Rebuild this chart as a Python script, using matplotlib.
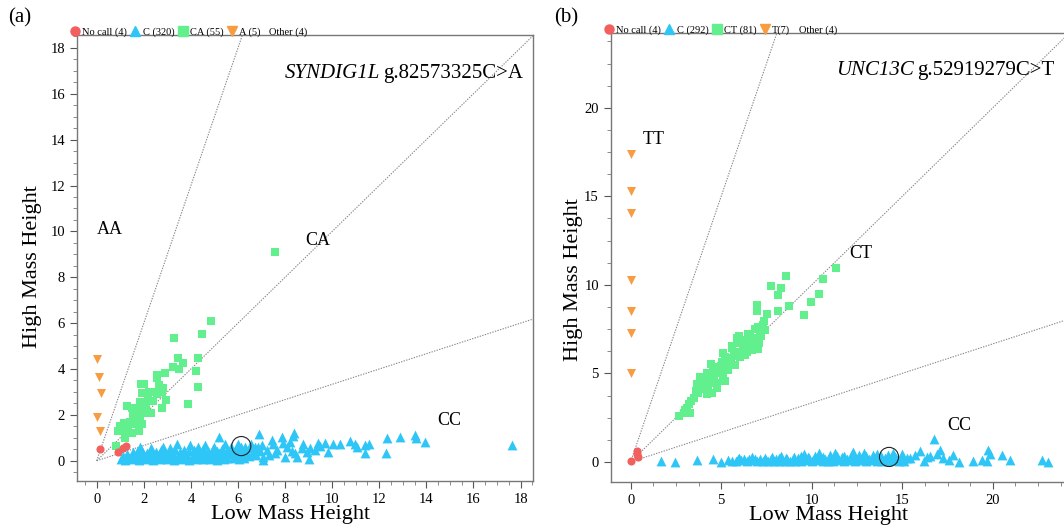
import matplotlib
matplotlib.use("Agg")
from matplotlib import pyplot as plt
from matplotlib.lines import Line2D
from matplotlib.ticker import MultipleLocator
import numpy as np

plt.rcParams['font.family'] = ['Liberation Serif', 'DejaVu Serif']

RED = '#f25f5f'
BLUE = '#2ec6f7'
GREEN = '#62f08e'
ORANGE = '#f89c42'

# ---------------- panel (a) data : SYNDIG1L ----------------
a_nocall = [(0.14, 0.50), (0.89, 0.37), (1.10, 0.54), (1.24, 0.63)]
a_hom_alt = [(0.0, 4.42), (0.11, 3.66), (0.17, 2.96), (0.0, 1.92), (0.14, 1.31)]
a_het = [(4.84, 6.09), (4.46, 5.51), (3.28, 5.33), (3.44, 4.46), (3.65, 4.27),
         (4.31, 4.49), (3.23, 4.07), (3.48, 4.00), (2.91, 3.84), (4.23, 3.91),
         (2.55, 3.72), (2.55, 3.60), (2.01, 3.34), (1.88, 3.33), (2.83, 3.18),
         (4.30, 3.20), (1.91, 2.96), (2.49, 3.01), (2.55, 2.89), (2.79, 3.01),
         (2.18, 2.75), (2.93, 2.66), (1.84, 2.57), (3.86, 2.46), (2.79, 2.31),
         (1.27, 2.38), (1.49, 2.28), (1.98, 2.28), (1.55, 2.17), (2.02, 2.07),
         (1.84, 1.95), (1.55, 1.82), (1.94, 1.61), (1.63, 1.59), (1.34, 1.51),
         (0.99, 1.51), (0.92, 1.29), (1.13, 1.29), (1.49, 1.22), (1.32, 1.20),
         (1.20, 1.00), (0.81, 0.66), (1.73, 1.62), (2.10, 2.40), (1.70, 2.30),
         (2.30, 2.10), (1.40, 1.70), (1.05, 1.40), (2.20, 3.00), (7.57, 9.11),
         (1.60, 1.95), (1.15, 1.65), (2.40, 2.60), (1.80, 1.30), (2.65, 3.30)]
a_hom_ref = [(1.05, 0.08), (1.10, 0.22), (1.20, 0.05), (1.28, 0.28), (1.35, 0.12),
             (1.44, 0.18), (1.50, 0.06), (1.52, 0.38), (1.60, 0.25), (1.65, 0.10),
             (1.72, 0.40), (1.75, 0.20), (1.80, 0.05), (1.85, 0.60), (1.90, 0.30),
             (1.92, 0.42), (1.95, 0.12), (2.05, 0.22), (2.10, 0.06), (2.12, 0.36),
             (2.20, 0.28), (2.25, 0.10), (2.30, 0.55), (2.32, 0.44), (2.35, 0.18),
             (2.40, 0.04), (2.50, 0.25), (2.52, 0.40), (2.55, 0.10), (2.65, 0.30),
             (2.70, 0.06), (2.72, 0.45), (2.80, 0.62), (2.85, 0.14), (2.92, 0.38),
             (2.95, 0.24), (3.00, 0.06), (3.10, 0.55), (3.12, 0.42), (3.15, 0.12),
             (3.25, 0.28), (3.30, 0.05), (3.32, 0.46), (3.40, 0.74), (3.45, 0.15),
             (3.52, 0.40), (3.55, 0.22), (3.60, 0.06), (3.70, 0.32), (3.72, 0.48),
             (3.75, 0.12), (3.85, 0.25), (3.90, 0.05), (3.92, 0.42), (3.95, 0.68),
             (4.05, 0.14), (4.12, 0.45), (4.15, 0.28), (4.20, 0.06), (4.30, 0.58),
             (4.32, 0.38), (4.35, 0.18), (4.45, 0.30), (4.50, 0.08), (4.52, 0.50),
             (4.60, 0.70), (4.65, 0.14), (4.72, 0.42), (4.75, 0.26), (4.80, 0.06),
             (4.90, 0.34), (4.92, 0.52), (4.95, 0.12), (5.00, 0.62), (5.05, 0.24),
             (5.10, 0.05), (5.12, 0.44), (5.20, 0.32), (5.21, 1.05), (5.25, 0.14),
             (5.32, 0.50), (5.35, 0.22), (5.40, 0.06), (5.45, 0.72), (5.50, 0.36),
             (5.52, 0.48), (5.55, 0.12), (5.65, 0.28), (5.70, 0.60), (5.72, 0.44),
             (5.80, 0.10), (5.85, 0.38), (5.90, 0.30), (5.92, 0.52), (5.95, 0.16),
             (6.00, 0.75), (6.05, 0.06), (6.10, 0.42), (6.12, 0.58), (6.15, 0.22),
             (6.25, 0.10), (6.28, 0.50), (6.30, 0.62), (6.35, 0.35), (6.45, 0.20),
             (6.50, 0.55), (6.55, 0.75), (6.60, 0.30), (6.72, 0.61), (6.75, 0.25),
             (6.80, 0.45), (6.85, 0.62), (6.89, 1.16), (6.93, 0.44), (7.00, 0.70),
             (7.07, 0.05), (7.07, 0.17), (7.22, 0.47), (7.30, 0.25), (7.46, 0.90),
             (7.50, 0.73), (7.57, 0.32), (7.64, 0.47), (7.86, 1.02), (7.92, 0.76),
             (8.00, 0.15), (8.07, 0.61), (8.20, 0.83), (8.28, 0.44), (8.35, 1.08),
             (8.39, 1.22), (8.42, 0.32), (8.49, 0.17), (8.70, 0.54), (8.77, 0.73),
             (8.92, 0.39), (9.01, 0.06), (9.06, 0.54), (9.27, 0.47), (9.41, 0.78),
             (9.48, 0.64), (9.69, 0.76), (9.83, 0.39), (10.05, 0.73), (10.33, 0.73),
             (10.76, 0.87), (10.97, 0.73), (11.04, 0.58), (11.39, 0.68), (11.39, 0.32),
             (11.58, 0.73), (12.31, 0.98), (12.27, 0.32), (12.88, 1.02), (13.52, 1.12),
             (13.56, 0.98), (13.94, 0.83), (17.62, 0.68)]
a_circle = (6.14, 0.64)

# ---------------- panel (b) data : UNC13C ----------------
b_nocall = [(0.0, 0.05), (0.33, 0.62), (0.39, 0.30), (0.36, 0.45)]
b_hom_alt = [(0.0, 17.4), (0.0, 15.3), (0.0, 14.05), (0.0, 10.3),
             (0.0, 8.54), (0.0, 7.3), (0.0, 5.0)]
b_het = [(11.33, 10.97), (10.61, 10.33), (10.39, 9.49), (9.98, 9.03), (9.59, 8.28),
         (8.60, 10.49), (7.73, 9.94), (8.30, 9.83), (8.14, 9.43), (8.73, 8.83),
         (8.14, 8.53), (6.96, 8.86), (7.00, 8.54), (7.51, 8.34), (7.38, 7.98),
         (7.33, 7.73), (7.05, 7.64), (7.14, 7.27), (6.50, 7.23), (6.77, 6.98),
         (5.86, 6.98), (6.13, 6.79), (7.05, 6.36), (6.69, 6.32), (6.41, 6.23),
         (5.58, 6.42), (6.04, 5.94), (5.12, 6.17), (5.49, 5.85), (5.03, 5.66),
         (5.76, 5.47), (4.84, 5.34), (4.56, 5.29), (4.20, 5.04), (4.66, 5.00),
         (5.12, 4.91), (3.83, 4.81), (4.38, 4.78), (5.21, 4.59), (4.75, 4.44),
         (3.65, 4.38), (4.29, 4.25), (4.75, 4.19), (3.73, 3.88), (4.20, 3.84),
         (4.48, 3.91), (3.31, 3.46), (3.09, 3.06), (3.28, 2.78), (2.69, 2.61),
         (2.96, 2.78), (6.35, 6.90), (6.60, 7.10), (6.20, 6.50), (5.95, 6.20),
         (5.70, 6.00), (5.30, 5.60), (5.90, 6.70), (6.85, 7.50), (7.20, 7.10),
         (6.90, 6.60), (5.40, 5.20), (4.95, 5.10), (4.10, 4.55), (3.95, 4.10),
         (3.50, 3.60), (3.20, 3.25), (4.60, 4.70), (6.30, 6.05), (6.75, 6.45),
         (7.10, 6.70), (5.60, 6.55), (5.20, 5.95), (4.45, 5.55), (3.60, 4.00),
         (6.00, 7.10), (7.40, 7.45), (6.55, 6.60), (5.00, 5.40), (4.30, 4.45),
         (3.00, 2.95)]
b_hom_ref = [(1.66, 0.07), (2.45, 0.01), (3.65, 0.11), (4.56, 0.16), (4.97, 0.01),
             (5.36, 0.11), (5.62, 0.04), (5.80, 0.05), (5.95, 0.15), (6.00, 0.22),
             (6.10, 0.08), (6.25, 0.16), (6.40, 0.04), (6.55, 0.14), (6.70, 0.10),
             (6.72, 0.26), (6.85, 0.18), (7.00, 0.04), (7.15, 0.14), (7.30, 0.07),
             (7.40, 0.22), (7.45, 0.12), (7.60, 0.03), (7.75, 0.16), (7.80, 0.28),
             (7.90, 0.06), (8.05, 0.15), (8.20, 0.24), (8.20, 0.04), (8.30, 0.34),
             (8.35, 0.12), (8.50, 0.06), (8.60, 0.24), (8.65, 0.16), (8.80, 0.03),
             (8.95, 0.18), (9.00, 0.30), (9.10, 0.07), (9.25, 0.20), (9.40, 0.32),
             (9.40, 0.04), (9.55, 0.16), (9.60, 0.42), (9.70, 0.08), (9.80, 0.28),
             (9.85, 0.20), (10.00, 0.05), (10.15, 0.18), (10.20, 0.36), (10.30, 0.08),
             (10.40, 0.48), (10.45, 0.22), (10.60, 0.30), (10.60, 0.04), (10.75, 0.16),
             (10.90, 0.07), (11.00, 0.38), (11.05, 0.24), (11.20, 0.03), (11.30, 0.50),
             (11.35, 0.18), (11.40, 0.32), (11.50, 0.08), (11.65, 0.26), (11.80, 0.36),
             (11.80, 0.04), (11.95, 0.18), (12.10, 0.08), (12.20, 0.42), (12.25, 0.24),
             (12.30, 0.55), (12.40, 0.04), (12.55, 0.20), (12.60, 0.38), (12.70, 0.08),
             (12.85, 0.26), (12.90, 0.50), (13.00, 0.36), (13.00, 0.05), (13.15, 0.18),
             (13.30, 0.08), (13.40, 0.40), (13.45, 0.24), (13.60, 0.46), (13.60, 0.04),
             (13.75, 0.16), (13.80, 0.34), (13.90, 0.07), (14.05, 0.22), (14.20, 0.40),
             (14.20, 0.04), (14.35, 0.16), (14.50, 0.08), (14.50, 0.52), (14.60, 0.30),
             (14.65, 0.20), (14.80, 0.04), (14.95, 0.16), (15.00, 0.42), (15.10, 0.07),
             (15.25, 0.22), (15.43, 0.20), (15.71, 0.39), (15.98, 0.63), (16.20, 0.05),
             (16.35, 0.29), (16.55, 0.35), (16.76, 1.28), (16.90, 0.45), (17.09, 0.67),
             (17.27, 0.20), (17.60, 0.10), (17.82, 0.39), (18.14, 0.01), (18.93, 0.07),
             (19.39, 0.11), (19.70, 0.05), (19.76, 0.67), (19.85, 0.45), (20.50, 0.39),
             (20.96, 0.11), (22.70, 0.11), (23.07, 0.01)]
b_circle = (14.27, 0.28)

fig = plt.figure(figsize=(10.64, 5.32), dpi=100)
ax_a = fig.add_axes([0.0721, 0.0964, 0.4293, 0.8369])
ax_b = fig.add_axes([0.5740, 0.0945, 0.4295, 0.8429])


def draw_panel(ax, nocall, hom_ref, het, hom_alt, circle, xlim, ylim, step, labels):
    ref_x = np.array([0.0, 40.0])
    for slope in (3.0, 1.0, 1.0 / 3.0):  # cluster boundary guides
        ax.plot(ref_x, slope * ref_x, ls=(0, (1.2, 1.2)), color='#888888', lw=0.8, zorder=1)
    for pts, mk, col, s in ((hom_ref, '^', BLUE, 50), (het, 's', GREEN, 36),
                            (hom_alt, 'v', ORANGE, 42), (nocall, 'o', RED, 34)):
        p = np.array(pts)
        ax.scatter(p[:, 0], p[:, 1], marker=mk, s=s, color=col, linewidths=0, zorder=3)
    ax.scatter([circle[0]], [circle[1]], marker='o', s=190, facecolors='none',
               edgecolors='#222222', linewidths=0.8, zorder=4)
    ax.set_xlim(*xlim)
    ax.set_ylim(*ylim)
    ax.xaxis.set_major_locator(MultipleLocator(step))
    ax.yaxis.set_major_locator(MultipleLocator(step))
    ax.xaxis.set_minor_locator(MultipleLocator(step / 4))
    ax.yaxis.set_minor_locator(MultipleLocator(step / 4))
    ax.tick_params(which='major', direction='out', length=5, width=0.8, color='#555555',
                   labelsize=10.5)
    ax.tick_params(which='minor', direction='out', length=3, width=0.6, color='#777777')
    for sp in ax.spines.values():
        sp.set_color('#777777')
        sp.set_linewidth(1.0)
    ax.set_xlabel('Low Mass Height', fontsize=16)
    ax.set_ylabel('High Mass Height', fontsize=16)
    for txt, x, y in labels:
        ax.text(x, y, txt, fontsize=13, va='center', ha='left')


draw_panel(ax_a, a_nocall, a_hom_ref, a_het, a_hom_alt, a_circle,
           (-0.85, 18.55), (-0.87, 18.54), 2,
           [('AA', 0.0, 10.1), ('CA', 8.85, 9.6), ('CC', 14.45, 1.75)])
draw_panel(ax_b, b_nocall, b_hom_ref, b_het, b_hom_alt, b_circle,
           (-1.1, 24.14), (-1.12, 24.21), 5,
           [('TT', 0.68, 18.2), ('CT', 12.1, 11.75), ('CC', 17.46, 2.08)])

ax_a.xaxis.set_label_coords(0.468, -0.055)
ax_b.xaxis.set_label_coords(0.476, -0.055)
ax_a.yaxis.set_label_coords(-0.076, 0.48)
ax_b.yaxis.set_label_coords(-0.060, 0.45)

# variant titles: italic gene name followed by upright change
titles = [(ax_a, 0.978, 0.905, 'SYNDIG1L', 'g.82573325C>A'),
          (ax_b, 0.971, 0.908, 'UNC13C', 'g.52919279C>T')]
title_parts = []
for ax, x, y, gene, change in titles:
    t = ax.text(x, y, change, transform=ax.transAxes, fontsize=15, ha='right', va='baseline')
    title_parts.append((ax, y, gene, t))
fig.canvas.draw()
for ax, y, gene, t in title_parts:
    x0 = t.get_window_extent().x0
    x0_ax = ax.transAxes.inverted().transform((x0, 0))[0]
    ax.text(x0_ax - 0.008, y, gene, transform=ax.transAxes, fontsize=15,
            fontstyle='italic', ha='right', va='baseline')


def legend_top(ax, names, other):
    handles = [Line2D([], [], marker='o', color=RED, ls='none', ms=6.5),
               Line2D([], [], marker='^', color=BLUE, ls='none', ms=6.5),
               Line2D([], [], marker='s', color=GREEN, ls='none', ms=6.5),
               Line2D([], [], marker='v', color=ORANGE, ls='none', ms=6.5)]
    leg = ax.legend(handles, names, loc='lower left', bbox_to_anchor=(-0.012, 0.997), ncol=4,
                    frameon=False, fontsize=7.5, handlelength=0.7, handletextpad=0.35,
                    columnspacing=0.45, borderaxespad=0, borderpad=0)
    ax.annotate(other, xy=(1, 0.5), xycoords=leg, xytext=(6, 0), textcoords='offset points',
                fontsize=7.5, ha='left', va='center')


legend_top(ax_a, ['No call (4)', 'C (320)', 'CA (55)', 'A (5)'], 'Other (4)')
legend_top(ax_b, ['No call (4)', 'C (292)', 'CT (81)', 'T(7)'], 'Other (4)')

fig.text(0.008, 0.966, '(a)', fontsize=15, va='center')
fig.text(0.521, 0.966, '(b)', fontsize=15, va='center')

fig.savefig('out.png', dpi=100)
